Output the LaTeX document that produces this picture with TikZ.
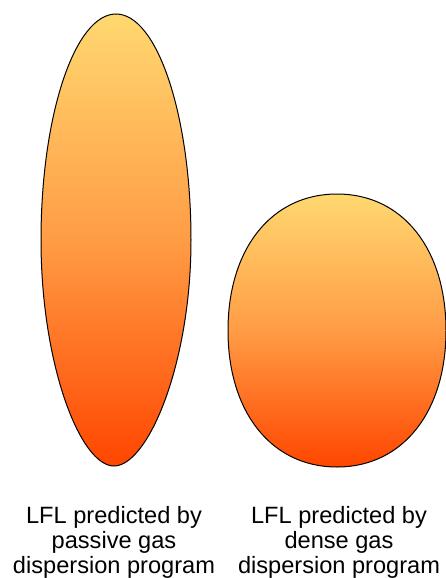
\documentclass[tikz,border=0pt]{standalone}
\usepackage{fontspec}
\setmainfont{Liberation Sans}
\begin{document}
\begin{tikzpicture}[x=1pt,y=-1pt,
  blob/.style={draw=black,line width=1pt,top color=topc,bottom color=botc,middle color=midc},
  lbl/.style={anchor=base,inner sep=0pt,font=\fontsize{23.6}{25}\selectfont}]
\definecolor{topc}{RGB}{255,216,112}
\definecolor{midc}{RGB}{255,156,69}
\definecolor{botc}{RGB}{255,70,0}
\useasboundingbox[fill=white] (0,0) rectangle (446,578);
% passive gas cloud
\shade[blob] (116,14) .. controls (157.25,14) and (191,115.7) .. (191,240)
  .. controls (191,364.3) and (147.75,466) .. (114,466)
  .. controls (80.25,466) and (41,364.3) .. (41,240)
  .. controls (41,115.7) and (74.75,14) .. (116,14) -- cycle;
% dense gas cloud
\shade[blob] (337,194) .. controls (402.4,194) and (446,248.6) .. (446,330.5)
  .. controls (446,412.4) and (402.4,467) .. (337,467)
  .. controls (271.6,467) and (228,412.4) .. (228,330.5)
  .. controls (228,248.6) and (271.6,194) .. (337,194) -- cycle;
% labels
\node[lbl] (a1) at (114,523) {LFL predicted by};
\node[lbl] (a2) at (114,548) {passive gas};
\node[lbl] (a3) at (114,573) {dispersion program};
\node[lbl] (b1) at (339,523) {LFL predicted by};
\node[lbl] (b2) at (339,548) {dense gas};
\node[lbl] (b3) at (339,573) {dispersion program};
\end{tikzpicture}
\end{document}
